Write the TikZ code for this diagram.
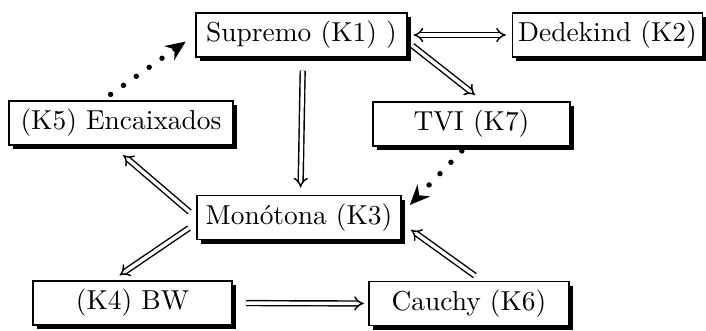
\documentclass[tikz,border=0pt]{standalone}
\usepackage{fontspec}
\usetikzlibrary{arrows.meta, shadows}

\tikzset{
	box/.style={draw, line width=0.6pt, fill=white, minimum height=15.4pt, inner sep=2pt,
		font=\fontsize{9.6}{11}\selectfont,
		drop shadow={shadow xshift=1.4pt, shadow yshift=-1.4pt, fill=black, opacity=1}},
	imp/.style={double, double distance=1.2pt, line width=0.5pt, -{Implies[scale=1.25]}},
	dots/.style={line width=1.9pt, line cap=round, dash pattern=on 0pt off 5.5pt,
		-{Stealth[length=7pt, width=6pt]}}
}

\begin{document}
\begin{tikzpicture}[x=0.35pt, y=-0.35pt]

		\useasboundingbox (0,0) rectangle (706,330);

		\node[box, minimum width=73.9pt] (sup) at (301.5,35) {Supremo (K1) )};
		\node[box, minimum width=65.8pt] (ded) at (607.5,35) {Dedekind (K2)};
		\node[box, minimum width=78.4pt] (enc) at (121,123) {(K5) Encaixados};
		\node[box, minimum width=69pt] (tvi) at (471.5,124) {TVI (K7)};
		\node[box, minimum width=71.4pt] (mon) at (299,217.5) {Monótona (K3)};
		\node[box, minimum width=69.7pt] (bw) at (132.5,303) {(K4) BW};
		\node[box, minimum width=70pt] (cau) at (469,303.5) {Cauchy (K6)};

		% double implications
		\draw[imp, {Implies[scale=1.25]}-{Implies[scale=1.25]}, shorten <=2pt, shorten >=2pt] (sup.east) -- (ded.west);
		\draw[imp, shorten <=2pt, shorten >=3.5pt] ([yshift=-2.5pt]sup.east) -- ([xshift=4pt]tvi.north);
		\draw[imp, shorten <=4.5pt, shorten >=2.5pt] ([xshift=0.5pt]sup.south) -- ([xshift=0.5pt]mon.north);
		\draw[imp, shorten <=3pt, shorten >=5pt] (mon.west) -- ([xshift=-3pt]enc.south);
		\draw[imp, shorten <=3pt, shorten >=3pt] ([yshift=-2pt]mon.west) -- ([xshift=-7pt]bw.north);
		\draw[imp, shorten <=4.5pt, shorten >=1.5pt] (bw.east) -- (cau.west);
		\draw[imp, shorten <=3pt, shorten >=4pt] ([xshift=4.5pt]cau.north) -- ([yshift=-2pt]mon.east);

		% dotted ones
		\draw[dots, shorten <=2pt, shorten >=4pt] ([xshift=-2pt]tvi.south) -- ([yshift=1.5pt]mon.east);
		\draw[dots, shorten <=3.5pt, shorten >=4pt] ([xshift=-6.5pt]enc.north) -- (sup.west);
		\end{tikzpicture}
\end{document}
